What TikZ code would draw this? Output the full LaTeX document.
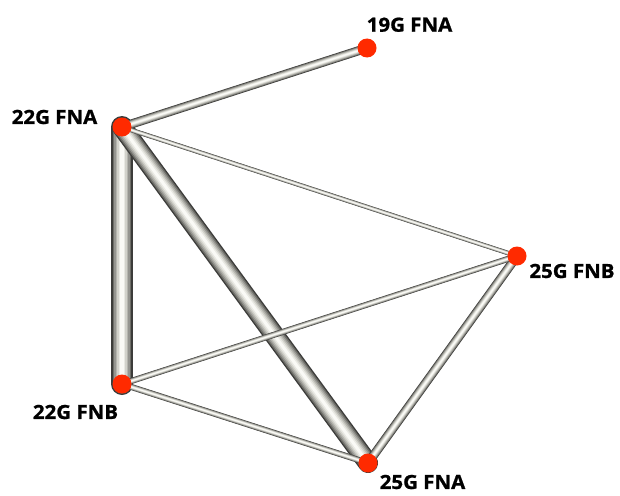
\documentclass[tikz,border=0pt]{standalone}
\usepackage{fontspec}
\setmainfont{Open Sans}[BoldFeatures={FakeStretch=1.05,FakeBold=1}]
\usetikzlibrary{backgrounds}
\definecolor{tA}{HTML}{3C3C3A}
\definecolor{tB}{HTML}{6E6E68}
\definecolor{tC}{HTML}{959590}
\definecolor{tD}{HTML}{B5B5AE}
\definecolor{tE}{HTML}{D2D2CB}
\definecolor{tF}{HTML}{E9E9E3}
\definecolor{tG}{HTML}{FAFAF6}
\definecolor{dotred}{HTML}{FF2A00}
\newcommand\tube[3]{%
  \foreach \f/\c in {1/tA,0.86/tB,0.72/tC,0.58/tD,0.44/tE,0.3/tF,0.15/tG}{%
    \draw[line width=\f*#3, color=\c, line cap=round] (#1.center) -- (#2.center);}}
\tikzset{
  dot/.style={circle, fill=dotred, inner sep=0pt, minimum size=19pt},
  lab/.style={font=\bfseries\fontsize{19.5}{22}\selectfont, inner sep=0pt}
}
\begin{document}
\begin{tikzpicture}[x=1pt,y=-1pt]
\useasboundingbox (0,0) rectangle (620,495);
\node[dot] (n19a) at (367,48) {};
\node[dot] (n22a) at (122,127) {};
\node[dot] (n25b) at (517,256) {};
\node[dot] (n22b) at (122,384) {};
\node[dot] (n25a) at (368,463) {};
\begin{scope}[on background layer]
  \tube{n22a}{n22b}{22pt}
  \tube{n22a}{n25a}{20pt}
  \tube{n25b}{n25a}{9pt}
  \tube{n22a}{n19a}{9pt}
  \tube{n22b}{n25a}{6pt}
  \tube{n22b}{n25b}{6pt}
  \tube{n22a}{n25b}{4.5pt}
\end{scope}
\node[lab] (l19a) at (409.5,24.7) {19G FNA};
\node[lab] (l22a) at (54.5,117) {22G FNA};
\node[lab] (l25b) at (572,271) {25G FNB};
\node[lab] (l22b) at (75.5,412) {22G FNB};
\node[lab] (l25a) at (422.5,482) {25G FNA};
\end{tikzpicture}
\end{document}
